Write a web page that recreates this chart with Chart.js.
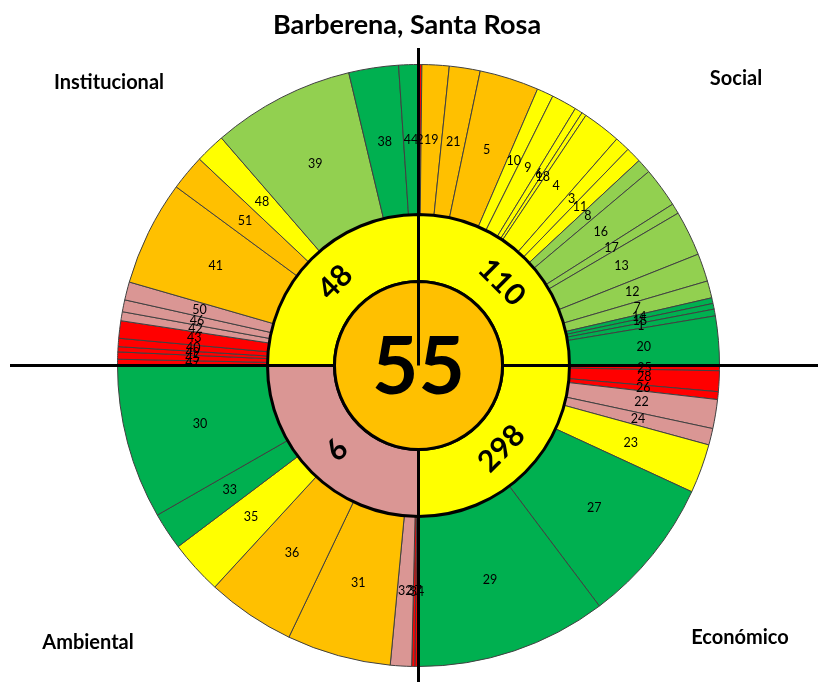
<!DOCTYPE html>
<html>
<head>
<meta charset="utf-8">
<script src="https://cdn.jsdelivr.net/npm/chart.js@4.4.1/dist/chart.umd.min.js"></script>
<style>
  html, body { margin: 0; padding: 0; background: #fff; }
  #wrap { position: relative; width: 818px; height: 682px; }
  canvas { display: block; }
</style>
</head>
<body>
<div id="wrap"><canvas id="chart" width="818" height="682"></canvas></div>
<script>
// indicators per dimension, in clockwise order (each dimension fills a quarter)
const socialIds = ['2', '19', '21', '5', '10', '9', '6', '18', '4', '3', '11', '8', '16', '17', '13', '12', '7', '14', '15', '1', '20'];
const socialWeights = [0.65, 5.23, 5.96, 11.46, 3.2, 4.9, 1.5, 0.9, 7.4, 2.9, 3.0, 2.8, 7.7, 2.0, 8.7, 5.4, 3.3, 1.1, 1.1, 1.3, 9.5];
const socialLevels = ['rojo', 'naranja', 'naranja', 'naranja', 'amarillo', 'amarillo', 'amarillo', 'amarillo', 'amarillo', 'amarillo', 'amarillo',
  'verdeClaro', 'verdeClaro', 'verdeClaro', 'verdeClaro', 'verdeClaro', 'verdeClaro', 'verde', 'verde', 'verde', 'verde'];

const economicoIds = ['25', '28', '26', '22', '24', '23', '27', '29'];
const economicoWeights = [1.0, 4.0, 1.5, 5.6, 3.2, 9.5, 28.25, 36.95];
const economicoLevels = ['rojo', 'rojo', 'rojo', 'rosa', 'rosa', 'amarillo', 'verde', 'verde'];

const ambientalIds = ['34', '37', '32', '31', '36', '35', '33', '30'];
const ambientalWeights = [0.7, 0.6, 4.1, 20.1, 17.1, 10.4, 7.2, 29.8];
const ambientalLevels = ['rojo', 'rojo', 'rosa', 'naranja', 'naranja', 'amarillo', 'verde', 'verde'];

const institucionalIds = ['47', '45', '49', '40', '43', '42', '46', '50', '41', '51', '48', '39', '38', '44'];
const institucionalWeights = [1.2, 1.4, 1.0, 1.6, 3.36, 1.74, 2.3, 3.5, 20.3, 6.9, 5.8, 27.5, 9.6, 3.8];
const institucionalLevels = ['rojo', 'rojo', 'rojo', 'rojo', 'rojo', 'rosa', 'rosa', 'rosa', 'naranja', 'naranja', 'amarillo', 'verdeClaro', 'verde', 'verde'];

const dimensions = ['Social', 'Económico', 'Ambiental', 'Institucional'];
const dimScores = [110, 298, 9, 48];
const dimLevels = ['amarillo', 'amarillo', 'rosa', 'amarillo'];
const globalScore = 55;
const globalLevel = 'naranja';

const levelColors = {
  rojo: '#FF0000',
  rosa: '#DA9694',
  naranja: '#FFC000',
  amarillo: '#FFFF00',
  verdeClaro: '#92D050',
  verde: '#00B050',
};

const ids = [...socialIds, ...economicoIds, ...ambientalIds, ...institucionalIds];
const weights = [...socialWeights, ...economicoWeights, ...ambientalWeights, ...institucionalWeights];
const levels = [...socialLevels, ...economicoLevels, ...ambientalLevels, ...institucionalLevels];

const FONT = 'Lato, "Open Sans", sans-serif';

// slice numbers, dimension scores, axes, titles
const decorPlugin = {
  id: 'decor',
  afterDatasetsDraw(chart) {
    const ctx = chart.ctx;
    const outer = chart.getDatasetMeta(0).data;
    const ring = chart.getDatasetMeta(1).data;
    const core = chart.getDatasetMeta(2).data[0];
    const cx = core.x;
    const cy = core.y;

    ctx.save();
    ctx.textAlign = 'center';
    ctx.textBaseline = 'middle';
    ctx.fillStyle = '#000';

    ctx.font = '12.5px ' + FONT;
    outer.forEach((arc, i) => {
      const p = arc.getCenterPoint();
      ctx.fillText(ids[i], p.x, p.y);
    });

    // axes crossing the whole chart, stopping at the central circle
    const r0 = core.outerRadius;
    ctx.strokeStyle = '#000';
    ctx.lineWidth = 3;
    ctx.beginPath();
    ctx.moveTo(10, cy); ctx.lineTo(cx - r0, cy);
    ctx.moveTo(cx + r0, cy); ctx.lineTo(chart.width, cy);
    ctx.moveTo(cx, 48); ctx.lineTo(cx, cy - r0);
    ctx.moveTo(cx, cy + r0); ctx.lineTo(cx, chart.height);
    ctx.stroke();

    const rot = [45, -45, 135, -45];
    ctx.font = 'bold 30px ' + FONT;
    ring.forEach((arc, i) => {
      const p = arc.getCenterPoint();
      ctx.save();
      ctx.translate(p.x, p.y);
      ctx.rotate(rot[i] * Math.PI / 180);
      ctx.fillText(String(dimScores[i]), 0, 0);
      ctx.restore();
    });

    ctx.font = 'bold 80px ' + FONT;
    ctx.fillText(String(globalScore), cx, cy + 3);

    ctx.font = 'bold 27px ' + FONT;
    ctx.fillText('Barberena, Santa Rosa', 407, 25);

    ctx.font = 'bold 20px ' + FONT;
    ctx.fillText(dimensions[0], 736, 79);
    ctx.fillText(dimensions[1], 740, 638);
    ctx.fillText(dimensions[2], 88, 643);
    ctx.fillText(dimensions[3], 109, 83);
    ctx.restore();
  },
};

new Chart(document.getElementById('chart'), {
  type: 'doughnut',
  data: {
    labels: ids,
    datasets: [
      {
        data: weights,
        backgroundColor: levels.map((l) => levelColors[l]),
        borderColor: '#404040',
        borderWidth: 1,
        weight: 150,
        order: 3,
      },
      {
        data: dimScores.map(() => 1),
        backgroundColor: dimLevels.map((l) => levelColors[l]),
        borderColor: '#000',
        borderWidth: 3,
        weight: 67,
        order: 2,
      },
      {
        data: [globalScore],
        backgroundColor: [levelColors[globalLevel]],
        borderColor: '#000',
        borderWidth: 3,
        weight: 84,
        order: 1,
      },
    ],
  },
  options: {
    responsive: false,
    animation: false,
    events: [],
    cutout: 0,
    radius: 301,
    hoverOffset: 0,
    layout: {
      padding: { left: 117.5, right: 98.5, top: 64.5, bottom: 15.5 },
    },
    plugins: {
      legend: { display: false },
      tooltip: { enabled: false },
      title: { display: false },
    },
  },
  plugins: [decorPlugin],
});
</script>
</body>
</html>
